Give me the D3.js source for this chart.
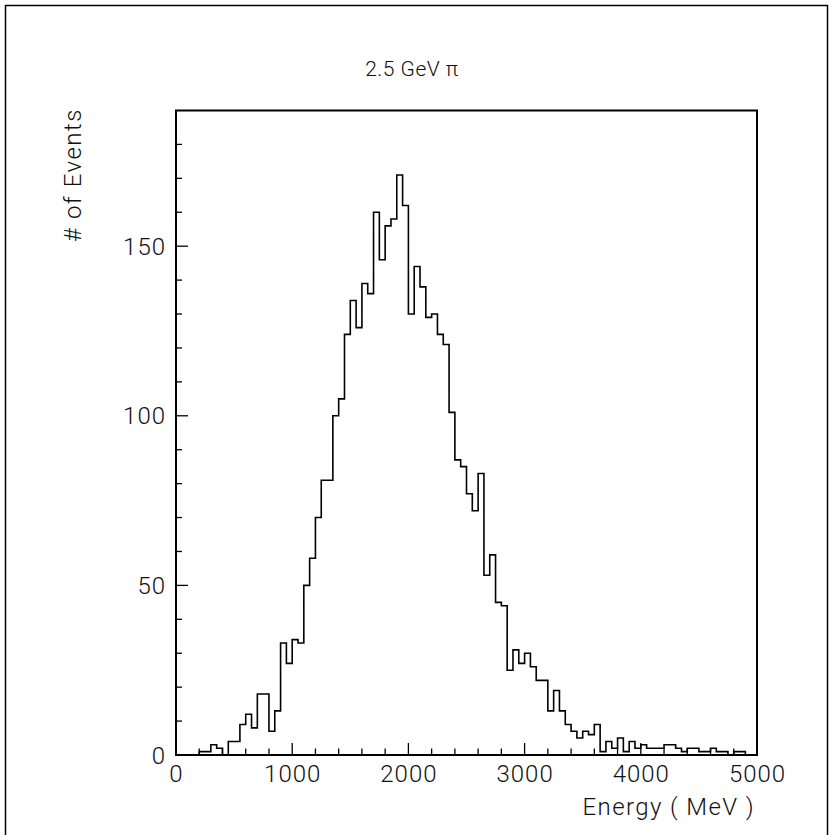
<!DOCTYPE html>
<html>
<head>
<meta charset="utf-8">
<script src="https://cdn.jsdelivr.net/npm/d3@7"></script>
<style>
  html, body { margin: 0; padding: 0; background: #fff; }
  svg text { font-family: Roboto, "Liberation Sans", sans-serif; font-weight: 300; fill: #111; }
</style>
</head>
<body>
<svg id="chart" width="832" height="835"></svg>
<script>
// Histogram: 100 bins of 50 MeV from 0 to 5000 MeV
const binWidth = 50;
const binLows = d3.range(0, 5000, binWidth);
const counts = [
  0, 0, 0, 0, 1, 1, 3, 2, 0, 4,
  4, 9, 12, 8, 18, 18, 7, 13, 33, 27,
  34, 33, 50, 58, 70, 81, 81, 100, 105, 124,
  134, 126, 139, 136, 160, 146, 156, 158, 171, 162,
  130, 144, 138, 129, 130, 124, 121, 101, 87, 85,
  77, 72, 83, 53, 59, 45, 44, 25, 31, 27,
  30, 26, 22, 22, 13, 19, 13, 9, 7, 5,
  7, 6, 9, 1, 4, 2, 5, 1, 4, 2,
  3, 2, 2, 2, 3, 3, 2, 1, 2, 2,
  1, 1, 2, 1, 1, 0, 1, 1, 0, 0
];
const xTickLabels = [0, 1000, 2000, 3000, 4000, 5000];
const yTickLabels = [0, 50, 100, 150];
const titleText = "2.5 GeV \u03C0";
const xTitle = "Energy ( MeV )";
const yTitle = "# of Events";

const svg = d3.select("#chart");

// outer page frame
svg.append("rect")
  .attr("x", 5.5).attr("y", 5.5)
  .attr("width", 822).attr("height", 840)
  .attr("fill", "none").attr("stroke", "#000").attr("stroke-width", 1.5);

const x = d3.scaleLinear().domain([0, 5000]).range([176, 757]);
const y = d3.scaleLinear().domain([0, 190]).range([755, 110.5]);

// histogram outline as a step path
const pts = [[0, 0]];
binLows.forEach((lo, i) => {
  pts.push([lo, counts[i]]);
  pts.push([lo + binWidth, counts[i]]);
});
pts.push([5000, 0]);
const line = d3.line().x(d => x(d[0])).y(d => y(d[1]));
svg.append("path")
  .attr("d", line(pts))
  .attr("fill", "none")
  .attr("stroke", "#000")
  .attr("stroke-width", 1.6)
  .attr("stroke-linejoin", "miter");

// frame
svg.append("rect")
  .attr("x", x(0)).attr("y", y(190))
  .attr("width", x(5000) - x(0)).attr("height", y(0) - y(190))
  .attr("fill", "none").attr("stroke", "#000").attr("stroke-width", 2);

// x ticks (inward)
const xMinor = d3.range(0, 5001, 200);
svg.append("g").selectAll("line").data(xMinor).join("line")
  .attr("x1", d => x(d)).attr("x2", d => x(d))
  .attr("y1", y(0)).attr("y2", d => y(0) - (d % 1000 === 0 ? 12 : 6.5))
  .attr("stroke", "#000").attr("stroke-width", 1.3);

// y ticks (inward)
const yMinor = d3.range(0, 190, 10);
svg.append("g").selectAll("line").data(yMinor).join("line")
  .attr("y1", d => y(d)).attr("y2", d => y(d))
  .attr("x1", x(0)).attr("x2", d => x(0) + (d % 50 === 0 ? 12 : 6))
  .attr("stroke", "#000").attr("stroke-width", 1.3);

// x tick labels
svg.append("g").selectAll("text").data(xTickLabels).join("text")
  .attr("x", d => x(d) + 0.5).attr("y", 782)
  .attr("text-anchor", "middle")
  .attr("font-size", 24)
  .attr("letter-spacing", 1)
  .text(d => d);

// y tick labels
svg.append("g").selectAll("text").data(yTickLabels).join("text")
  .attr("x", 166).attr("y", d => y(d) + 8.5)
  .attr("text-anchor", "end")
  .attr("font-size", 24)
  .attr("letter-spacing", 1)
  .text(d => d);

// title
svg.append("text")
  .attr("x", 412).attr("y", 76)
  .attr("text-anchor", "middle")
  .attr("font-size", 21)
  .attr("letter-spacing", 0.5)
  .text(titleText);

// x title
svg.append("text")
  .attr("x", 755).attr("y", 815)
  .attr("text-anchor", "end")
  .attr("font-size", 24)
  .attr("letter-spacing", 1.4)
  .text(xTitle);

// y title
svg.append("text")
  .attr("transform", "translate(81,175) rotate(-90)")
  .attr("text-anchor", "middle")
  .attr("font-size", 24)
  .attr("letter-spacing", 1.5)
  .text(yTitle);
</script>
</body>
</html>
